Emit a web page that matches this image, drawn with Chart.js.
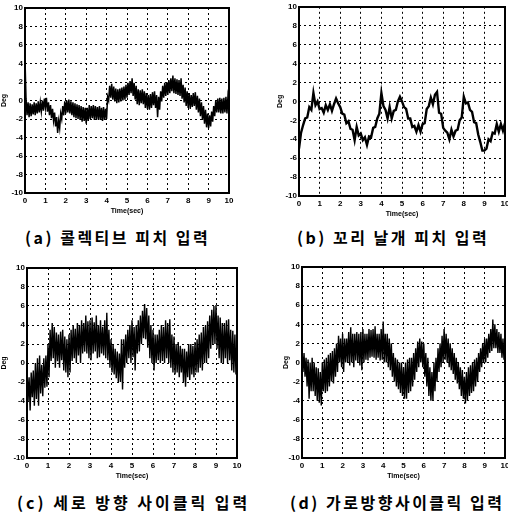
<!DOCTYPE html>
<html>
<head>
<meta charset="utf-8">
<script src="https://cdn.jsdelivr.net/npm/chart.js@4.4.1/dist/chart.umd.min.js"></script>
<style>
  html, body { margin: 0; padding: 0; background: #fff; }
  body { width: 508px; height: 518px; overflow: hidden; position: relative; }
  canvas { position: absolute; }
  .cap { position: absolute; font-family: "Noto Sans CJK KR", sans-serif; font-size: 16px; font-weight: bold; line-height: 1; color: #000; white-space: nowrap; letter-spacing: 2.5px; }
</style>
</head>
<body>
<canvas id="chartA" width="254" height="218" style="left:0;top:0"></canvas>
<canvas id="chartB" width="248" height="221" style="left:276px;top:0"></canvas>
<canvas id="chartC" width="254" height="228" style="left:0;top:255px"></canvas>
<canvas id="chartD" width="242" height="228" style="left:282px;top:255px"></canvas>

<div class="cap" style="left:25px;top:229px">(a) 콜렉티브 피치 입력</div>
<div class="cap" style="left:297px;top:229px">(b) 꼬리 날개 피치 입력</div>
<div class="cap" style="left:17px;top:494px;letter-spacing:3px">(c) 세로 방향 사이클릭 입력</div>
<div class="cap" style="left:290px;top:494px">(d) 가로방향사이클릭 입력</div>

<script>
// sample times (sec), 0.05 s
const timeFine = [
  0, 0.05, 0.1, 0.15, 0.2, 0.25, 0.3, 0.35, 0.4, 0.45, 0.5, 0.55, 0.6, 0.65, 0.7, 0.75, 0.8, 0.85, 0.9, 0.95,
  1, 1.05, 1.1, 1.15, 1.2, 1.25, 1.3, 1.35, 1.4, 1.45, 1.5, 1.55, 1.6, 1.65, 1.7, 1.75, 1.8, 1.85, 1.9, 1.95,
  2, 2.05, 2.1, 2.15, 2.2, 2.25, 2.3, 2.35, 2.4, 2.45, 2.5, 2.55, 2.6, 2.65, 2.7, 2.75, 2.8, 2.85, 2.9, 2.95,
  3, 3.05, 3.1, 3.15, 3.2, 3.25, 3.3, 3.35, 3.4, 3.45, 3.5, 3.55, 3.6, 3.65, 3.7, 3.75, 3.8, 3.85, 3.9, 3.95,
  4, 4.05, 4.1, 4.15, 4.2, 4.25, 4.3, 4.35, 4.4, 4.45, 4.5, 4.55, 4.6, 4.65, 4.7, 4.75, 4.8, 4.85, 4.9, 4.95,
  5, 5.05, 5.1, 5.15, 5.2, 5.25, 5.3, 5.35, 5.4, 5.45, 5.5, 5.55, 5.6, 5.65, 5.7, 5.75, 5.8, 5.85, 5.9, 5.95,
  6, 6.05, 6.1, 6.15, 6.2, 6.25, 6.3, 6.35, 6.4, 6.45, 6.5, 6.55, 6.6, 6.65, 6.7, 6.75, 6.8, 6.85, 6.9, 6.95,
  7, 7.05, 7.1, 7.15, 7.2, 7.25, 7.3, 7.35, 7.4, 7.45, 7.5, 7.55, 7.6, 7.65, 7.7, 7.75, 7.8, 7.85, 7.9, 7.95,
  8, 8.05, 8.1, 8.15, 8.2, 8.25, 8.3, 8.35, 8.4, 8.45, 8.5, 8.55, 8.6, 8.65, 8.7, 8.75, 8.8, 8.85, 8.9, 8.95,
  9, 9.05, 9.1, 9.15, 9.2, 9.25, 9.3, 9.35, 9.4, 9.45, 9.5, 9.55, 9.6, 9.65, 9.7, 9.75, 9.8, 9.85, 9.9, 9.95,
  10
];

// sample times (sec), 0.1 s
const timeCoarse = [
  0, 0.1, 0.2, 0.3, 0.4, 0.5, 0.6, 0.7, 0.8, 0.9,
  1, 1.1, 1.2, 1.3, 1.4, 1.5, 1.6, 1.7, 1.8, 1.9,
  2, 2.1, 2.2, 2.3, 2.4, 2.5, 2.6, 2.7, 2.8, 2.9,
  3, 3.1, 3.2, 3.3, 3.4, 3.5, 3.6, 3.7, 3.8, 3.9,
  4, 4.1, 4.2, 4.3, 4.4, 4.5, 4.6, 4.7, 4.8, 4.9,
  5, 5.1, 5.2, 5.3, 5.4, 5.5, 5.6, 5.7, 5.8, 5.9,
  6, 6.1, 6.2, 6.3, 6.4, 6.5, 6.6, 6.7, 6.8, 6.9,
  7, 7.1, 7.2, 7.3, 7.4, 7.5, 7.6, 7.7, 7.8, 7.9,
  8, 8.1, 8.2, 8.3, 8.4, 8.5, 8.6, 8.7, 8.8, 8.9,
  9, 9.1, 9.2, 9.3, 9.4, 9.5, 9.6, 9.7, 9.8, 9.9,
  10
];

// (a) collective pitch input, deg (0.05 s)
const collectiveDeg = [
  4.5, 0.2, -1.6, -0.2, -1.8, -0.3, -1.7, -0.4, -1.5, -0.2, -1.6, -0.3, -1.4, -0.1, -1.3, -0.2, -1.2, 0.0, -1.1, 0.2,
  -0.8, 0.3, -1.2, -0.2, -1.6, -0.5, -1.9, -0.9, -2.2, -1.3, -2.8, -1.8, -3.5, -2.2, -3.0, -1.4, -2.0, -0.6, -1.6, -0.1,
  -1.4, 0.0, -1.3, 0.1, -1.4, -0.1, -1.6, -0.2, -1.8, -0.3, -1.9, -0.4, -2.0, -0.5, -2.1, -0.6, -2.3, -0.7, -2.2, -0.8,
  -2.5, -0.8, -2.2, -0.5, -2.0, -0.6, -1.9, -0.5, -2.1, -0.6, -2.0, -0.7, -2.1, -0.6, -2.1, -0.8, -2.2, -0.7, -2.1, -0.9,
  -2.0, 0.4, 0.0, 1.6, 0.3, 1.8, 0.1, 1.5, -0.1, 1.3, -0.3, 1.2, -0.2, 1.3, -0.1, 1.4, 0.0, 1.5, 0.1, 1.7,
  0.3, 1.9, 0.6, 2.1, 0.8, 2.4, 0.5, 1.9, 0.1, 1.6, -0.4, 1.2, -0.5, 1.1, -0.3, 1.2, -0.4, 1.0, -0.8, 0.8,
  -0.9, 0.6, -1.0, 0.7, -0.8, 0.9, -0.5, 1.0, -0.8, 0.6, -1.8, 0.4, -1.0, 1.0, -0.1, 1.6, 0.3, 1.9, 0.5, 2.0,
  0.6, 2.2, 0.8, 2.4, 1.0, 2.7, 0.8, 2.4, 0.7, 2.3, 0.6, 2.2, 0.5, 2.4, 0.2, 1.7, -0.2, 1.4, -0.6, 1.0,
  -0.8, 0.8, -0.9, 0.6, -0.7, 0.8, -0.6, 0.9, -1.0, 0.5, -1.3, 0.2, -1.7, -0.2, -2.1, -0.6, -2.5, -1.0, -2.9, -1.4,
  -3.0, -1.6, -2.8, -1.2, -2.3, -0.6, -1.7, 0.0, -1.3, 0.2, -1.3, 0.3, -1.4, 0.2, -1.4, 0.3, -1.3, 0.4, -1.4, 0.5,
  -0.2
];

// (b) tail rotor pitch input, deg (0.1 s)
const tailDeg = [
  -5.0, -3.3, -2.5, -1.8, -1.7, -0.6, -0.9, 0.9, -0.4, 0.0,
  -0.8, -0.7, -1.2, -0.4, -0.9, -0.3, -1.0, -0.3, 0.3, -0.2,
  -0.6, -1.3, -1.4, -2.3, -2.1, -2.9, -3.0, -4.1, -2.7, -3.6,
  -3.4, -4.1, -3.8, -4.6, -3.7, -3.8, -2.8, -2.7, -1.8, -1.3,
  0.9, -0.5, -0.9, -1.8, -0.6, -1.8, -1.0, -0.9, 0.0, 0.5,
  0.0, -0.6, -0.8, -1.8, -1.8, -2.7, -2.6, -3.2, -2.5, -3.2,
  -2.4, -2.3, -0.8, -0.5, 0.4, -0.3, 0.7, 1.0, -1.2, -1.3,
  -2.8, -3.1, -3.3, -4.0, -3.0, -3.7, -3.1, -3.0, -2.0, -1.7,
  0.5, -0.2, -0.1, -0.9, -1.1, -2.2, -2.3, -3.5, -4.3, -5.2,
  -5.2, -5.0, -4.0, -4.2, -3.3, -3.4, -2.4, -3.2, -2.4, -3.1,
  -2.3
];

// (c) longitudinal cyclic input, deg (0.05 s)
const longCyclicDeg = [
  -0.5, -4.0, -1.5, -5.0, -1.0, -3.6, -0.8, -4.5, 0.0, -3.8, 0.5, -4.5, 0.8, -3.2, -0.2, -3.5, 0.5, -2.6, 0.8, -2.5,
  2.0, -1.5, 3.5, 0.2, 4.2, 0.5, 3.8, -0.5, 3.2, 0.2, 3.0, -0.5, 3.3, 0.3, 3.5, -0.8, 2.8, -1.0, 2.5, -1.5,
  3.0, -1.0, 3.5, 0.2, 4.0, 0.5, 3.6, 0.0, 4.2, 0.8, 4.0, 0.0, 4.5, 1.0, 4.2, 1.2, 5.0, 1.0, 4.4, 0.5,
  4.5, 0.3, 4.8, 1.0, 4.3, 1.2, 5.0, 0.5, 4.0, 0.6, 4.5, 1.0, 3.8, 0.8, 4.5, 0.5, 5.3, 0.3, 3.5, -0.5,
  2.5, -1.0, 2.0, -1.2, 1.5, -1.6, 1.2, -2.0, 1.0, -2.0, 2.5, -2.8, 2.5, -0.5, 3.0, 0.0, 3.5, 0.5, 4.0, 0.0,
  4.5, 0.6, 3.8, -0.8, 4.0, 1.0, 4.5, 1.2, 5.0, 2.0, 5.5, 2.6, 6.2, 2.5, 5.8, 1.6, 5.0, 0.5, 4.0, 0.0,
  3.5, -0.8, 3.0, 0.0, 3.0, 0.3, 3.5, 0.0, 4.0, 0.2, 3.8, 0.0, 4.5, 0.5, 4.2, 0.0, 4.6, -0.5, 3.0, -1.0,
  2.8, -1.2, 2.0, -1.0, 2.2, -1.5, 1.8, -1.0, 1.5, -2.0, 1.5, -2.5, 1.2, -1.5, 2.0, -1.8, 2.0, -1.2, 1.8, -1.5,
  2.2, -1.0, 2.5, -1.0, 3.0, -0.5, 3.2, -0.8, 3.8, 0.0, 4.0, 0.0, 4.4, 0.5, 5.0, 1.5, 5.6, 2.0, 6.0, 2.0,
  6.1, 1.5, 5.0, 0.5, 4.8, 0.0, 4.2, 0.0, 4.2, 0.5, 4.5, 0.0, 4.6, 0.3, 3.5, -0.8, 3.4, -1.0, 3.0, -1.2,
  2.8
];

// (d) lateral cyclic input, deg (0.05 s)
const latCyclicDeg = [
  1.5, -1.0, 1.0, -1.5, 0.5, -2.5, 0.3, -3.8, 0.0, -3.0, 0.5, -3.0, 0.0, -3.5, -0.5, -4.0, -0.6, -4.2, -1.0, -4.5,
  0.0, -3.0, 0.3, -3.2, 0.5, -3.0, 0.8, -2.5, 1.0, -2.0, 1.2, -2.2, 1.5, -1.5, 2.0, -1.0, 2.8, 0.0, 2.5, -0.5,
  3.0, -1.0, 2.5, 0.0, 2.5, 0.0, 3.2, -0.3, 3.7, 0.0, 3.0, -0.5, 3.0, 0.2, 3.2, 0.0, 3.0, -0.3, 3.2, -0.8,
  3.5, 0.0, 3.0, 0.3, 3.0, 0.2, 3.5, 0.5, 3.4, 0.6, 3.5, 0.5, 3.8, 0.3, 3.0, 0.5, 3.0, 0.2, 3.5, 0.3,
  4.3, 0.0, 3.0, 0.0, 3.0, -0.5, 2.5, -0.8, 2.0, -1.5, 1.0, -2.0, 0.5, -2.5, 0.3, -2.8, 0.0, -3.2, 0.0, -3.5,
  -0.5, -3.8, 0.0, -3.8, 0.3, -3.2, 0.5, -3.0, 0.5, -2.5, 1.0, -1.8, 1.5, -1.0, 2.2, -0.5, 2.5, 0.0, 2.2, -0.5,
  2.0, -1.5, 1.0, -2.5, 0.5, -3.5, -0.5, -4.0, -1.0, -4.0, 0.0, -3.0, 0.5, -2.0, 1.5, -1.0, 2.0, -0.5, 2.8, 0.0,
  3.5, 0.3, 3.0, 0.0, 2.5, -0.5, 2.0, -0.8, 1.5, -1.2, 1.0, -1.8, 0.5, -2.2, 0.0, -2.8, -0.5, -3.5, -0.8, -3.8,
  -1.5, -4.3, -1.0, -4.0, -0.5, -3.5, -0.3, -3.2, 0.0, -3.0, 0.3, -2.5, 0.5, -2.0, 1.0, -1.0, 1.5, -0.5, 2.0, 0.0,
  2.5, 0.0, 2.5, 0.5, 3.0, 1.0, 3.5, 1.2, 4.5, 1.5, 4.0, 1.5, 3.5, 1.0, 3.2, 1.0, 3.0, 0.5, 2.5, 0.3,
  2.0
];

const xTicks = [0, 1, 2, 3, 4, 5, 6, 7, 8, 9, 10];
const yTicks = [-10, -8, -6, -4, -2, 0, 2, 4, 6, 8, 10];

const tickFont = { family: 'Liberation Sans', size: 8, weight: 'bold' };
const titleFont = { family: 'Liberation Sans', size: 7, weight: 'bold' };

// solid box round the plot area, 2 px
const frameBox = {
  id: 'frameBox',
  afterDraw(chart) {
    const a = chart.chartArea;
    const ctx = chart.ctx;
    const l = Math.round(a.left), r = Math.round(a.right);
    const t = Math.round(a.top), b = Math.round(a.bottom);
    ctx.save();
    ctx.setLineDash([]);
    ctx.fillStyle = '#000';
    ctx.fillRect(l - 1, t - 1, r - l + 2, 2);
    ctx.fillRect(l - 1, b - 1, r - l + 2, 2);
    ctx.fillRect(l - 1, t - 1, 2, b - t + 2);
    ctx.fillRect(r - 1, t - 1, 2, b - t + 2);
    ctx.restore();
  }
};

function makeChart(id, times, values, lw, yw, pad) {
  const ctx = document.getElementById(id).getContext('2d');
  return new Chart(ctx, {
    type: 'line',
    data: {
      datasets: [{
        data: times.map((t, i) => ({ x: t, y: values[i] })),
        borderColor: '#000',
        borderWidth: lw,
        pointRadius: 0,
        tension: 0,
        fill: false
      }]
    },
    options: {
      responsive: false,
      animation: false,
      layout: { padding: pad },
      plugins: { legend: { display: false }, tooltip: { enabled: false } },
      scales: {
        x: {
          type: 'linear', min: 0, max: 10,
          afterBuildTicks: s => { s.ticks = xTicks.map(v => ({ value: v })); },
          afterFit: s => { s.height = 25; },
          ticks: { font: tickFont, color: '#000', padding: 3, maxRotation: 0 },
          grid: { color: '#000', lineWidth: 1, drawTicks: false, tickLength: 0 },
          border: { display: false, dash: [2, 3] },
          title: { display: true, text: 'Time(sec)', font: titleFont, color: '#000', padding: { top: 0, bottom: 3 } }
        },
        y: {
          min: -10, max: 10,
          afterBuildTicks: s => { s.ticks = yTicks.map(v => ({ value: v })); },
          afterFit: s => { s.width = yw; },
          ticks: { font: tickFont, color: '#000', padding: 2 },
          grid: { color: '#000', lineWidth: 1, drawTicks: false, tickLength: 0 },
          border: { display: false, dash: [2, 3] },
          title: { display: true, text: 'Deg', font: titleFont, color: '#000', padding: 0 }
        }
      }
    },
    plugins: [frameBox]
  });
}

makeChart('chartA', timeFine, collectiveDeg, 1.5, 25, { left: 0, right: 25, top: 8, bottom: 0 });
makeChart('chartB', timeCoarse, tailDeg, 2.4, 23, { left: 0, right: 19, top: 5, bottom: 0 });
makeChart('chartC', timeFine, longCyclicDeg, 1.4, 27, { left: 0, right: 17, top: 13, bottom: 0 });
makeChart('chartD', timeFine, latCyclicDeg, 1.4, 20, { left: 0, right: 19, top: 12, bottom: 0 });
</script>
</body>
</html>
